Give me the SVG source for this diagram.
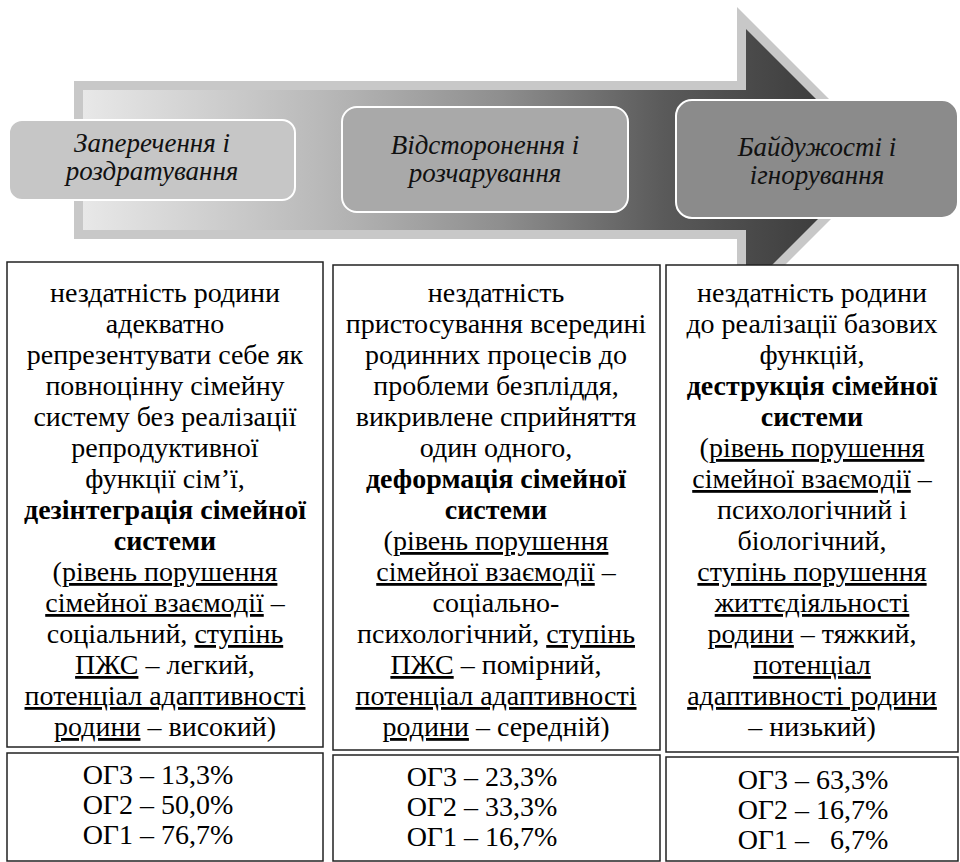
<svg xmlns="http://www.w3.org/2000/svg" width="960" height="862" viewBox="0 0 960 862">
<defs>
<linearGradient id="g" x1="83" y1="0" x2="890" y2="0" gradientUnits="userSpaceOnUse">
<stop offset="0" stop-color="#e8e8e8"/>
<stop offset="0.3" stop-color="#b8b8b8"/>
<stop offset="0.52" stop-color="#8e8e8e"/>
<stop offset="0.72" stop-color="#5a5a5a"/>
<stop offset="1" stop-color="#303030"/>
</linearGradient>
<style>
.hb{stroke:#ffffff;stroke-width:2}
.ht{font-family:'Liberation Serif','DejaVu Serif',serif;font-style:italic;font-size:27px;fill:#111;text-anchor:middle}
.bx{fill:#ffffff;stroke:#222;stroke-width:1.5}
.t{font-family:'Liberation Serif','DejaVu Serif',serif;font-size:28px;fill:#000;text-anchor:middle}
.b{font-weight:bold}
.u{text-decoration:underline}
</style>
</defs>
<rect width="960" height="862" fill="#ffffff"/>
<g id="arrow">
<polygon points="74,81 737,81 737,7 890,160 737,313 737,239 74,239" fill="#c8c8c8"/>
<polygon points="83,90 746,90 746,29 877,160 746,291 746,230 83,230" fill="url(#g)"/>
</g>
<g id="stage1">
<rect class="hb" x="9" y="120" width="286" height="80" rx="13" fill="#c6c6c6"/>
<text class="ht" x="152" y="152">Заперечення і</text>
<text class="ht" x="152" y="180">роздратування</text>
</g>
<g id="stage2">
<rect class="hb" x="342" y="107" width="286" height="105" rx="15" fill="#a9a9a9"/>
<text class="ht" x="485" y="154">Відсторонення і</text>
<text class="ht" x="485" y="182">розчарування</text>
</g>
<g id="stage3">
<rect class="hb" x="676" y="100" width="282" height="118" rx="16" fill="#8b8b8b"/>
<text class="ht" x="817" y="156">Байдужості і</text>
<text class="ht" x="817" y="184">ігнорування</text>
</g>
<g id="desc1">
<rect class="bx" x="7" y="262" width="316" height="485"/>
<text class="t" x="165" y="302">нездатність родини</text>
<text class="t" x="165" y="333">адекватно</text>
<text class="t" x="165" y="364">репрезентувати себе як</text>
<text class="t" x="165" y="395">повноцінну сімейну</text>
<text class="t" x="165" y="426">систему без реалізації</text>
<text class="t" x="165" y="457">репродуктивної</text>
<text class="t" x="165" y="488">функції сім’ї,</text>
<text class="t b" x="165" y="519">дезінтеграція сімейної</text>
<text class="t b" x="165" y="550">системи</text>
<text class="t" x="165" y="581">(<tspan class="u">рівень порушення</tspan></text>
<text class="t" x="165" y="612"><tspan class="u">сімейної взаємодії</tspan> –</text>
<text class="t" x="165" y="643">соціальний, <tspan class="u">ступінь</tspan></text>
<text class="t" x="165" y="674"><tspan class="u">ПЖС</tspan> – легкий,</text>
<text class="t" x="165" y="705"><tspan class="u">потенціал адаптивності</tspan></text>
<text class="t" x="165" y="736"><tspan class="u">родини</tspan> – високий)</text>
</g>
<g id="desc2">
<rect class="bx" x="333" y="265" width="327" height="485"/>
<text class="t" x="496" y="302">нездатність</text>
<text class="t" x="496" y="333">пристосування всередині</text>
<text class="t" x="496" y="364">родинних процесів до</text>
<text class="t" x="496" y="395">проблеми безпліддя,</text>
<text class="t" x="496" y="426">викривлене сприйняття</text>
<text class="t" x="496" y="457">один одного,</text>
<text class="t b" x="496" y="488">деформація сімейної</text>
<text class="t b" x="496" y="519">системи</text>
<text class="t" x="496" y="550">(<tspan class="u">рівень порушення</tspan></text>
<text class="t" x="496" y="581"><tspan class="u">сімейної взаємодії</tspan> –</text>
<text class="t" x="496" y="612">соціально-</text>
<text class="t" x="496" y="643">психологічний, <tspan class="u">ступінь</tspan></text>
<text class="t" x="496" y="674"><tspan class="u">ПЖС</tspan> – помірний,</text>
<text class="t" x="496" y="705"><tspan class="u">потенціал адаптивності</tspan></text>
<text class="t" x="496" y="736"><tspan class="u">родини</tspan> – середній)</text>
</g>
<g id="desc3">
<rect class="bx" x="666" y="265" width="292" height="487"/>
<text class="t" x="812" y="302">нездатність родини</text>
<text class="t" x="812" y="333">до реалізації базових</text>
<text class="t" x="812" y="364">функцій,</text>
<text class="t b" x="812" y="395">деструкція сімейної</text>
<text class="t b" x="812" y="426">системи</text>
<text class="t" x="812" y="457">(<tspan class="u">рівень порушення</tspan></text>
<text class="t" x="812" y="488"><tspan class="u">сімейної взаємодії</tspan> –</text>
<text class="t" x="812" y="519">психологічний і</text>
<text class="t" x="812" y="550">біологічний,</text>
<text class="t" x="812" y="581"><tspan class="u">ступінь порушення</tspan></text>
<text class="t" x="812" y="612"><tspan class="u">життєдіяльності</tspan></text>
<text class="t" x="812" y="643"><tspan class="u">родини</tspan> – тяжкий,</text>
<text class="t" x="812" y="674"><tspan class="u">потенціал</tspan></text>
<text class="t" x="812" y="705"><tspan class="u">адаптивності родини</tspan></text>
<text class="t" x="812" y="736">– низький)</text>
</g>
<g id="stats1">
<rect class="bx" x="7" y="753" width="316" height="108"/>
<text class="t" x="158" y="784">ОГ3 – 13,3%</text>
<text class="t" x="158" y="814">ОГ2 – 50,0%</text>
<text class="t" x="158" y="844">ОГ1 – 76,7%</text>
</g>
<g id="stats2">
<rect class="bx" x="333" y="755" width="327" height="106"/>
<text class="t" x="482" y="786">ОГ3 – 23,3%</text>
<text class="t" x="482" y="816">ОГ2 – 33,3%</text>
<text class="t" x="482" y="846">ОГ1 – 16,7%</text>
</g>
<g id="stats3">
<rect class="bx" x="666" y="757" width="292" height="104"/>
<text class="t" x="813" y="789">ОГ3 – 63,3%</text>
<text class="t" x="813" y="819">ОГ2 – 16,7%</text>
<text class="t" x="813" y="849" xml:space="preserve">ОГ1 –   6,7%</text>
</g>
</svg>
